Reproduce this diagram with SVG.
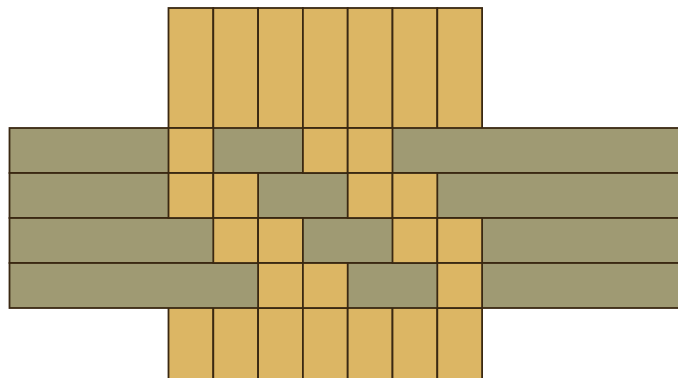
<svg xmlns="http://www.w3.org/2000/svg" width="678" height="378" viewBox="0 0 678 378">
<style>
.y{fill:#dcb664;stroke:#3a2812;stroke-width:1.8}
.g{fill:#9f9a73;stroke:#3a2812;stroke-width:1.8}
</style>
<rect width="678" height="378" fill="#ffffff"/>
<g id="warp">
<rect class="y" x="168.5" y="8" width="44.8" height="380"/>
<rect class="y" x="213.3" y="8" width="44.8" height="380"/>
<rect class="y" x="258.1" y="8" width="44.8" height="380"/>
<rect class="y" x="302.9" y="8" width="44.8" height="380"/>
<rect class="y" x="347.7" y="8" width="44.8" height="380"/>
<rect class="y" x="392.5" y="8" width="44.8" height="380"/>
<rect class="y" x="437.3" y="8" width="44.8" height="380"/>
</g>
<g id="weft">
<rect class="g" x="9.5" y="128" width="680" height="45"/>
<rect class="g" x="9.5" y="173" width="680" height="45"/>
<rect class="g" x="9.5" y="218" width="680" height="45"/>
<rect class="g" x="9.5" y="263" width="680" height="45"/>
</g>
<g id="over">
<rect class="y" x="168.5" y="128" width="44.8" height="45"/>
<rect class="y" x="302.9" y="128" width="44.8" height="45"/>
<rect class="y" x="347.7" y="128" width="44.8" height="45"/>
<rect class="y" x="168.5" y="173" width="44.8" height="45"/>
<rect class="y" x="213.3" y="173" width="44.8" height="45"/>
<rect class="y" x="347.7" y="173" width="44.8" height="45"/>
<rect class="y" x="392.5" y="173" width="44.8" height="45"/>
<rect class="y" x="213.3" y="218" width="44.8" height="45"/>
<rect class="y" x="258.1" y="218" width="44.8" height="45"/>
<rect class="y" x="392.5" y="218" width="44.8" height="45"/>
<rect class="y" x="437.3" y="218" width="44.8" height="45"/>
<rect class="y" x="258.1" y="263" width="44.8" height="45"/>
<rect class="y" x="302.9" y="263" width="44.8" height="45"/>
<rect class="y" x="437.3" y="263" width="44.8" height="45"/>
</g>
</svg>
